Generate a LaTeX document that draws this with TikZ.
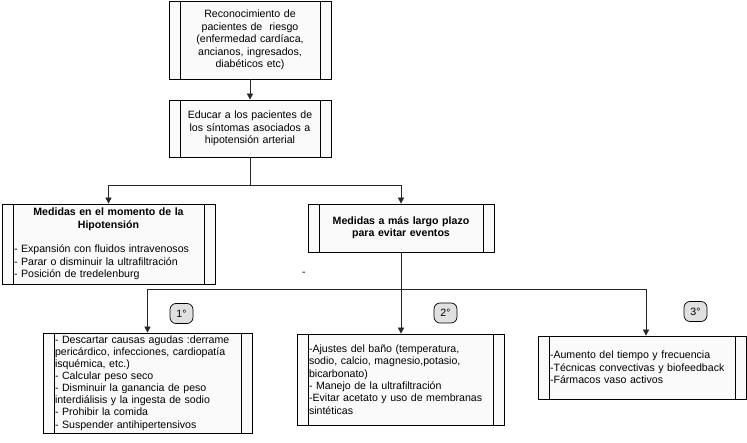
\documentclass[tikz,border=0pt]{standalone}
\usepackage{fontspec}
\setmainfont{Liberation Sans}
\usetikzlibrary{arrows.meta, positioning}

\begin{document}
\begin{tikzpicture}[x=1pt, y=-1pt,
    procbox/.style={rectangle, draw, fill=black!2, line width=0.7pt,
                inner xsep=12pt, inner ysep=0pt, font=\fontsize{10.6}{12.4}\selectfont,
                path picture={
                    \draw[line width=0.7pt] ([xshift=11pt]path picture bounding box.north west) -- ([xshift=11pt]path picture bounding box.south west);
                    \draw[line width=0.7pt] ([xshift=-11pt]path picture bounding box.north east) -- ([xshift=-11pt]path picture bounding box.south east);}},
    steplabel/.style={rectangle, rounded corners=6pt, draw, fill=black!12, line width=0.7pt,
                minimum width=23pt, minimum height=20pt, inner sep=0pt, font=\fontsize{10.6}{12.4}\selectfont},
    link/.style={-{Triangle[width=6pt,length=6pt]}, line width=0.7pt, black!85}]

    \useasboundingbox (0,0) rectangle (747,443);

    % Screening and education
    \node[procbox, minimum width=162pt, minimum height=78pt, text width=138pt, align=center] (screen) at (250,40)
        {Reconocimiento de\\ pacientes de\ \ riesgo\\ (enfermedad cardíaca,\\ ancianos, ingresados,\\ diabéticos etc)};
    \node[procbox, minimum width=162pt, minimum height=57pt, text width=138pt, align=center] (educate) at (250,128.5)
        {Educar a los pacientes de\\ los síntomas asociados a\\ hipotensión arterial};

    % Two kinds of measures
    \node[procbox, minimum width=213pt, minimum height=80pt, text width=189pt, align=left] (acute) at (108.5,244)
        {{\centering\textbf{Medidas en el momento de la\\ Hipotensión}\par}
         \vspace{12.4pt}
         - Expansión con fluidos intravenosos\\
         - Parar o disminuir la ultrafiltración\\
         - Posición de tredelenburg};
    \node[procbox, minimum width=186pt, minimum height=48pt, text width=162pt, align=center,
          font=\fontsize{10.6}{12.4}\selectfont\bfseries] (longterm) at (401,228)
        {Medidas a más largo plazo\\ para evitar eventos};
    \node[font=\fontsize{10.6}{12.4}\selectfont] (dash) at (304,274) {-};

    % Long-term steps
    \node[procbox, minimum width=209pt, minimum height=100pt, text width=185pt, align=left,
          font=\fontsize{10.6}{12.1}\selectfont] (first) at (147.5,383)
        {- Descartar causas agudas :derrame\\
         pericárdico, infecciones, cardiopatía\\
         isquémica, etc.)\\
         - Calcular peso seco\\
         - Disminuir la ganancia de peso\\
         interdiálisis y la ingesta de sodio\\
         - Prohibir la comida\\
         - Suspender antihipertensivos};
    \node[procbox, minimum width=207pt, minimum height=91pt, text width=183pt, align=left] (second) at (400.5,379.5)
        {-Ajustes del baño (temperatura,\\
         sodio, calcio, magnesio,potasio,\\
         bicarbonato)\\
         - Manejo de la ultrafiltración\\
         -Evitar acetato y uso de membranas\\
         sintéticas};
    \node[procbox, minimum width=208pt, minimum height=63pt, text width=184pt, align=left] (third) at (642,367.5)
        {-Aumento del tiempo y frecuencia\\
         -Técnicas convectivas y biofeedback\\
         -Fármacos vaso activos};

    % Step numbers
    \node[steplabel] (one) at (181.5,313.5) {1°};
    \node[steplabel] (two) at (445.5,313) {2°};
    \node[steplabel] (three) at (695.5,311.5) {3°};

    % Arrows
    \coordinate (split1) at (250,185);
    \coordinate (split2) at (401,289);
    \draw[link] (screen) -- (educate);
    \draw[link] (educate.south) -- (split1) -| (acute.north);
    \draw[link] (split1) -| (longterm.north);
    \draw[line width=0.7pt, black!85] (longterm.south) -- (split2);
    \draw[link] (split2) -| (first.north);
    \draw[link] (split2) -- (split2 |- second.north);
    \draw[link] (split2) -| ([xshift=4pt]third.north);
\end{tikzpicture}
\end{document}
